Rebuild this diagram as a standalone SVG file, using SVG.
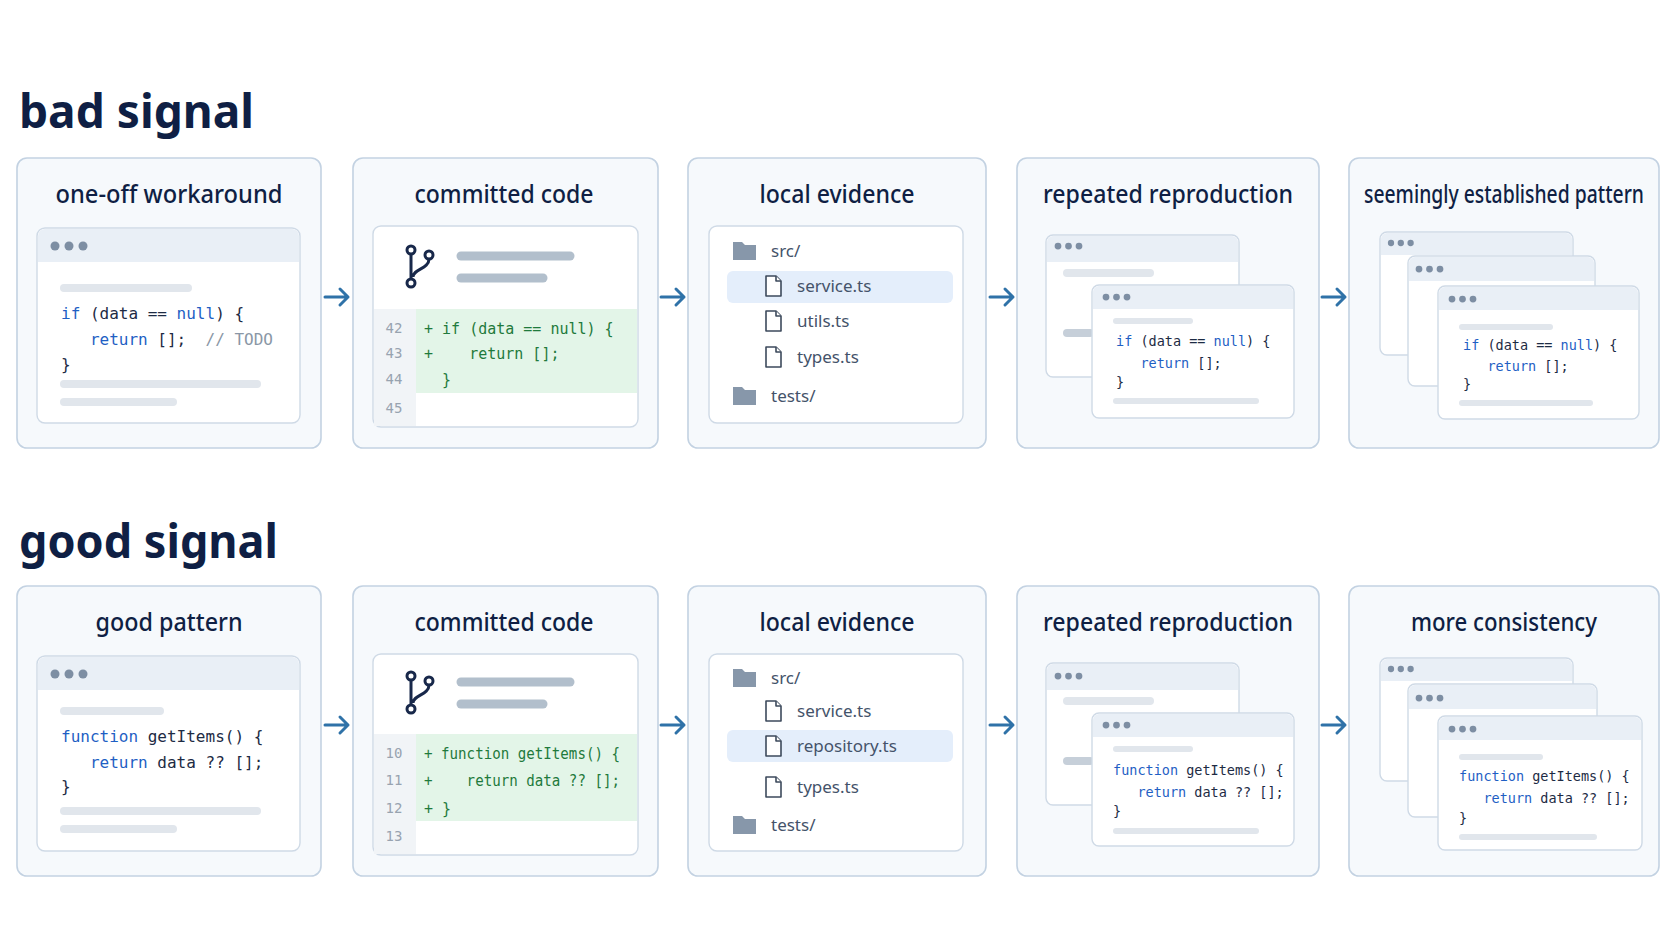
<svg xmlns="http://www.w3.org/2000/svg" width="1672" height="941" viewBox="0 0 1672 941">
<defs>
<style>
text{white-space:pre}
.h{font-family:"Noto Sans","Open Sans",sans-serif;font-weight:700;fill:#0f1f44;font-size:46px}
.ct{font-family:"Noto Sans","Open Sans",sans-serif;font-weight:500;fill:#0f1f44;font-size:26px;text-anchor:middle}
.card{fill:#f6f9fc;stroke:#c3d2e2;stroke-width:1.6}
.win{fill:#ffffff;stroke:#cfdae6;stroke-width:1.4}
.hdr{fill:#e9eff6}
.dot{fill:#7d8ea3}
.bar{stroke:#e1e6ec;stroke-width:8;stroke-linecap:round}
.dbar{stroke:#b2bfcc;stroke-width:9;stroke-linecap:round}
.code{font-family:"DejaVu Sans Mono","Liberation Mono",monospace;font-size:16px;fill:#1d2b44}
.cg{font-size:15px}
.sm{font-size:13.5px}
.kw{fill:#1f5fc4}
.cm{fill:#8a97a6}
.g{fill:#1f7a3c}
.ln{font-family:"DejaVu Sans Mono",monospace;font-size:14px;fill:#98a3b0;text-anchor:middle}
.file{font-family:"Noto Sans","Open Sans",sans-serif;font-size:17px;fill:#44536a}
.fold{fill:#8797aa}
.fic{fill:#fff;stroke:#3d4a5c;stroke-width:1.6;stroke-linejoin:round}
.arr{stroke:#2f72a8;stroke-width:3;fill:none;stroke-linecap:round;stroke-linejoin:round}
</style>
<g id="dots3"><circle cx="0" cy="0" r="4.5" class="dot"/><circle cx="14" cy="0" r="4.5" class="dot"/><circle cx="28" cy="0" r="4.5" class="dot"/></g>
<g id="fold"><path d="M0 0h9l3 3h11v15H0z" class="fold"/></g>
<g id="fic"><path d="M0 0h10l5 5v15H0z" class="fic"/><path d="M10 0v5h5" class="fic"/></g>
<g id="git" fill="none" stroke="#18284a" stroke-width="3"><circle cx="0" cy="-16" r="4"/><circle cx="0" cy="17" r="4"/><circle cx="18" cy="-11" r="4"/><path d="M0 -12V13M18 -7c0 10-16 10-16 18"/></g>
</defs>
<rect width="1672" height="941" fill="#ffffff"/>
<text class="h" x="19" y="128" textLength="235" lengthAdjust="spacingAndGlyphs">bad signal</text>
<text class="h" x="19" y="558" textLength="259" lengthAdjust="spacingAndGlyphs">good signal</text>

<g id="connectors">
<path class="arr" d="M325 297H348M340 289l8 8-8 8"/>
<path class="arr" d="M661 297H684M676 289l8 8-8 8"/>
<path class="arr" d="M990 297H1013M1005 289l8 8-8 8"/>
<path class="arr" d="M1322 297H1345M1337 289l8 8-8 8"/>
<path class="arr" d="M325 725H348M340 717l8 8-8 8"/>
<path class="arr" d="M661 725H684M676 717l8 8-8 8"/>
<path class="arr" d="M990 725H1013M1005 717l8 8-8 8"/>
<path class="arr" d="M1322 725H1345M1337 717l8 8-8 8"/>
</g>

<!-- ROW 1 -->
<g id="b1">
<rect class="card" x="17" y="158" width="304" height="290" rx="10"/>
<text class="ct" x="169" y="203" textLength="227" lengthAdjust="spacingAndGlyphs">one-off workaround</text>
<rect class="win" x="37" y="228" width="263" height="195" rx="8"/>
<path class="hdr" d="M38 262V236a7 7 0 0 1 7-7h247a7 7 0 0 1 7 7v26z"/>
<use href="#dots3" x="55" y="246"/>
<line class="bar" x1="64" y1="288" x2="188" y2="288"/>
<text class="code" x="61" y="319"><tspan class="kw">if</tspan> (data == <tspan class="kw">null</tspan>) {</text>
<text class="code" x="61" y="345">   <tspan class="kw">return</tspan> [];  <tspan class="cm">// TODO</tspan></text>
<text class="code" x="61" y="370">}</text>
<line class="bar" x1="64" y1="384" x2="257" y2="384"/>
<line class="bar" x1="64" y1="402" x2="173" y2="402"/>
</g>
<g id="b2">
<rect class="card" x="353" y="158" width="305" height="290" rx="10"/>
<text class="ct" x="504" y="203" textLength="179" lengthAdjust="spacingAndGlyphs">committed code</text>
<rect class="win" x="373" y="226" width="265" height="201" rx="8"/>
<rect x="374" y="309" width="42" height="117" fill="#f1f4f7"/>
<rect x="416" y="309" width="221" height="84" fill="#e3f5e8"/>
<use href="#git" x="411" y="266"/>
<line class="dbar" x1="461" y1="256" x2="570" y2="256"/>
<line class="dbar" x1="461" y1="278" x2="543" y2="278"/>
<text class="ln" x="394" y="333">42</text><text class="ln" x="394" y="358">43</text><text class="ln" x="394" y="384">44</text><text class="ln" x="394" y="413">45</text>
<text class="code cg g" x="424" y="334">+ if (data == null) {</text>
<text class="code cg g" x="424" y="359">+    return [];</text>
<text class="code cg g" x="424" y="385">  }</text>
</g>
<g id="b3">
<rect class="card" x="688" y="158" width="298" height="290" rx="10"/>
<text class="ct" x="837" y="203" textLength="155" lengthAdjust="spacingAndGlyphs">local evidence</text>
<rect class="win" x="709" y="226" width="254" height="197" rx="8"/>
<rect x="727" y="271" width="226" height="32" rx="6" fill="#e4eefb"/>
<use href="#fold" x="733" y="242"/><text class="file" x="771" y="257">src/</text>
<use href="#fic" x="766" y="276"/><text class="file" x="797" y="292">service.ts</text>
<use href="#fic" x="766" y="311"/><text class="file" x="797" y="327">utils.ts</text>
<use href="#fic" x="766" y="347"/><text class="file" x="797" y="363">types.ts</text>
<use href="#fold" x="733" y="387"/><text class="file" x="771" y="402">tests/</text>
</g>
<g id="b4">
<rect class="card" x="1017" y="158" width="302" height="290" rx="10"/>
<text class="ct" x="1168" y="203" textLength="250" lengthAdjust="spacingAndGlyphs">repeated reproduction</text>
<rect class="win" x="1046" y="235" width="193" height="142" rx="7"/>
<path class="hdr" d="M1047 262V242a6 6 0 0 1 6-6h179a6 6 0 0 1 6 6v20z"/>
<use href="#dots3" transform="translate(1058,246) scale(0.75)"/>
<line class="bar" x1="1067" y1="273" x2="1150" y2="273"/>
<line class="bar" x1="1067" y1="333" x2="1090" y2="333" style="stroke:#c6cfd9"/>
<rect class="win" x="1092" y="285" width="202" height="133" rx="7"/>
<path class="hdr" d="M1093 309V292a6 6 0 0 1 6-6h188a6 6 0 0 1 6 6v17z"/>
<use href="#dots3" transform="translate(1106,297) scale(0.75)"/>
<line class="bar" x1="1116" y1="321" x2="1190" y2="321" style="stroke-width:6"/>
<text class="code sm" x="1116" y="346"><tspan class="kw">if</tspan> (data == <tspan class="kw">null</tspan>) {</text>
<text class="code sm" x="1116" y="368">   <tspan class="kw">return</tspan> [];</text>
<text class="code sm" x="1116" y="387">}</text>
<line class="bar" x1="1116" y1="401" x2="1256" y2="401" style="stroke-width:6"/>
</g>
<g id="b5">
<rect class="card" x="1349" y="158" width="310" height="290" rx="10"/>
<text class="ct" x="1504" y="203" style="font-size:25px" textLength="280" lengthAdjust="spacingAndGlyphs">seemingly established pattern</text>
<rect class="win" x="1380" y="232" width="193" height="123" rx="7"/>
<path class="hdr" d="M1381 255V239a6 6 0 0 1 6-6h179a6 6 0 0 1 6 6v16z"/>
<use href="#dots3" transform="translate(1391,243) scale(0.7)"/>
<rect class="win" x="1408" y="256" width="187" height="130" rx="7"/>
<path class="hdr" d="M1409 281V263a6 6 0 0 1 6-6h173a6 6 0 0 1 6 6v18z"/>
<use href="#dots3" transform="translate(1419,269) scale(0.75)"/>
<rect class="win" x="1438" y="286" width="201" height="133" rx="7"/>
<path class="hdr" d="M1439 310V293a6 6 0 0 1 6-6h187a6 6 0 0 1 6 6v17z"/>
<use href="#dots3" transform="translate(1452,299) scale(0.75)"/>
<line class="bar" x1="1462" y1="327" x2="1550" y2="327" style="stroke-width:6"/>
<text class="code sm" x="1463" y="350"><tspan class="kw">if</tspan> (data == <tspan class="kw">null</tspan>) {</text>
<text class="code sm" x="1463" y="371">   <tspan class="kw">return</tspan> [];</text>
<text class="code sm" x="1463" y="389">}</text>
<line class="bar" x1="1462" y1="403" x2="1590" y2="403" style="stroke-width:6"/>
</g>

<!-- ROW 2 -->
<g id="g1" transform="translate(0,428)">
<rect class="card" x="17" y="158" width="304" height="290" rx="10"/>
<text class="ct" x="169" y="203" textLength="147" lengthAdjust="spacingAndGlyphs">good pattern</text>
<rect class="win" x="37" y="228" width="263" height="195" rx="8"/>
<path class="hdr" d="M38 262V236a7 7 0 0 1 7-7h247a7 7 0 0 1 7 7v26z"/>
<use href="#dots3" x="55" y="246"/>
<line class="bar" x1="64" y1="283" x2="160" y2="283"/>
<text class="code" x="61" y="314"><tspan class="kw">function</tspan> getItems() {</text>
<text class="code" x="61" y="340">   <tspan class="kw">return</tspan> data ?? [];</text>
<text class="code" x="61" y="364">}</text>
<line class="bar" x1="64" y1="383" x2="257" y2="383"/>
<line class="bar" x1="64" y1="401" x2="173" y2="401"/>
</g>
<g id="g2" transform="translate(0,428)">
<rect class="card" x="353" y="158" width="305" height="290" rx="10"/>
<text class="ct" x="504" y="203" textLength="179" lengthAdjust="spacingAndGlyphs">committed code</text>
<rect class="win" x="373" y="226" width="265" height="201" rx="8"/>
<rect x="374" y="306" width="42" height="120" fill="#f1f4f7"/>
<rect x="416" y="306" width="221" height="87" fill="#e3f5e8"/>
<use href="#git" x="411" y="264"/>
<line class="dbar" x1="461" y1="254" x2="570" y2="254"/>
<line class="dbar" x1="461" y1="276" x2="543" y2="276"/>
<text class="ln" x="394" y="330">10</text><text class="ln" x="394" y="357">11</text><text class="ln" x="394" y="385">12</text><text class="ln" x="394" y="413">13</text>
<text class="code cg g" x="424" y="331" textLength="196" lengthAdjust="spacingAndGlyphs">+ function getItems() {</text>
<text class="code cg g" x="424" y="358" textLength="196" lengthAdjust="spacingAndGlyphs">+    return data ?? [];</text>
<text class="code cg g" x="424" y="386">+ }</text>
</g>
<g id="g3" transform="translate(0,428)">
<rect class="card" x="688" y="158" width="298" height="290" rx="10"/>
<text class="ct" x="837" y="203" textLength="155" lengthAdjust="spacingAndGlyphs">local evidence</text>
<rect class="win" x="709" y="226" width="254" height="197" rx="8"/>
<rect x="727" y="302" width="226" height="32" rx="6" fill="#e4eefb"/>
<use href="#fold" x="733" y="241"/><text class="file" x="771" y="256">src/</text>
<use href="#fic" x="766" y="273"/><text class="file" x="797" y="289">service.ts</text>
<use href="#fic" x="766" y="308"/><text class="file" x="797" y="324">repository.ts</text>
<use href="#fic" x="766" y="349"/><text class="file" x="797" y="365">types.ts</text>
<use href="#fold" x="733" y="388"/><text class="file" x="771" y="403">tests/</text>
</g>
<g id="g4" transform="translate(0,428)">
<rect class="card" x="1017" y="158" width="302" height="290" rx="10"/>
<text class="ct" x="1168" y="203" textLength="250" lengthAdjust="spacingAndGlyphs">repeated reproduction</text>
<rect class="win" x="1046" y="235" width="193" height="142" rx="7"/>
<path class="hdr" d="M1047 262V242a6 6 0 0 1 6-6h179a6 6 0 0 1 6 6v20z"/>
<use href="#dots3" transform="translate(1058,248) scale(0.75)"/>
<line class="bar" x1="1067" y1="273" x2="1150" y2="273"/>
<line class="bar" x1="1067" y1="333" x2="1090" y2="333" style="stroke:#c6cfd9"/>
<rect class="win" x="1092" y="285" width="202" height="133" rx="7"/>
<path class="hdr" d="M1093 309V292a6 6 0 0 1 6-6h188a6 6 0 0 1 6 6v17z"/>
<use href="#dots3" transform="translate(1106,297) scale(0.75)"/>
<line class="bar" x1="1116" y1="321" x2="1190" y2="321" style="stroke-width:6"/>
<text class="code sm" x="1113" y="347"><tspan class="kw">function</tspan> getItems() {</text>
<text class="code sm" x="1113" y="369">   <tspan class="kw">return</tspan> data ?? [];</text>
<text class="code sm" x="1113" y="388">}</text>
<line class="bar" x1="1116" y1="403" x2="1256" y2="403" style="stroke-width:6"/>
</g>
<g id="g5" transform="translate(0,428)">
<rect class="card" x="1349" y="158" width="310" height="290" rx="10"/>
<text class="ct" x="1504" y="203" textLength="186" lengthAdjust="spacingAndGlyphs">more consistency</text>
<rect class="win" x="1380" y="230" width="193" height="123" rx="7"/>
<path class="hdr" d="M1381 253V237a6 6 0 0 1 6-6h179a6 6 0 0 1 6 6v16z"/>
<use href="#dots3" transform="translate(1391,241) scale(0.7)"/>
<rect class="win" x="1408" y="256" width="189" height="133" rx="7"/>
<path class="hdr" d="M1409 281V263a6 6 0 0 1 6-6h175a6 6 0 0 1 6 6v18z"/>
<use href="#dots3" transform="translate(1419,270) scale(0.75)"/>
<rect class="win" x="1438" y="288" width="204" height="134" rx="7"/>
<path class="hdr" d="M1439 312V295a6 6 0 0 1 6-6h190a6 6 0 0 1 6 6v17z"/>
<use href="#dots3" transform="translate(1452,301) scale(0.75)"/>
<line class="bar" x1="1462" y1="329" x2="1540" y2="329" style="stroke-width:6"/>
<text class="code sm" x="1459" y="353"><tspan class="kw">function</tspan> getItems() {</text>
<text class="code sm" x="1459" y="375">   <tspan class="kw">return</tspan> data ?? [];</text>
<text class="code sm" x="1459" y="395">}</text>
<line class="bar" x1="1462" y1="409" x2="1594" y2="409" style="stroke-width:6"/>
</g>
</svg>
